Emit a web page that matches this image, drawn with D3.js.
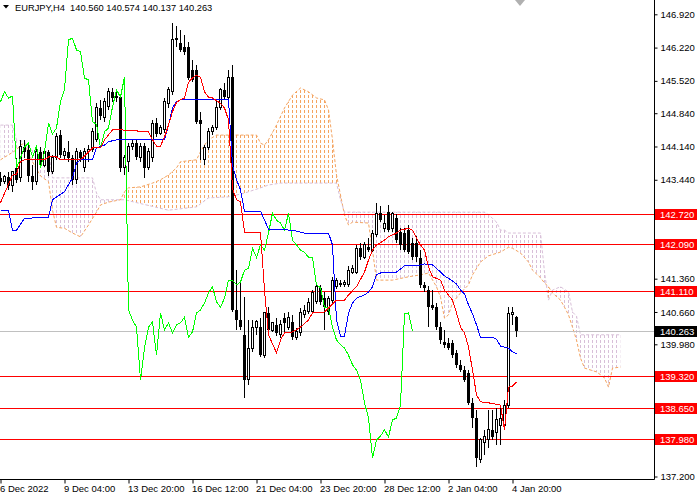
<!DOCTYPE html>
<html>
<head>
<meta charset="utf-8">
<script src="https://cdn.jsdelivr.net/npm/d3@7"></script>
<style>
  html, body { margin: 0; padding: 0; background: #fff; }
  svg { display: block; font-family: "Liberation Sans", Arial, sans-serif; }
</style>
</head>
<body>
<div id="chart"></div>
<script>
// EURJPY H4 with Ichimoku
var titleText = "EURJPY,H4  140.560 140.574 140.137 140.263";

var opens = [143.48,143.40,143.50,143.31,143.69,143.48,144.13,144.07,143.52,143.40,
  144.03,143.75,144.03,143.61,143.90,144.38,143.96,144.03,143.90,143.44,
  144.03,143.69,144.03,144.07,144.28,144.95,144.74,144.99,145.29,145.16,
  145.18,143.69,143.82,144.13,144.21,143.90,144.15,143.69,143.90,144.63,
  144.42,144.49,145.05,145.29,146.38,146.32,146.23,146.23,145.75,145.75,
  144.70,143.86,144.11,144.45,144.53,144.97,145.33,145.16,145.60,140.70,
  140.49,140.18,139.23,139.90,140.34,140.34,139.75,140.64,140.28,140.39,
  140.18,140.53,140.34,140.45,140.13,140.22,140.60,140.66,140.66,140.87,
  141.17,140.95,140.66,140.91,141.19,141.27,141.23,141.23,141.50,141.50,
  142.00,141.81,142.02,141.96,142.28,142.74,142.42,142.76,142.42,142.63,
  142.34,142.32,142.38,142.11,142.11,141.79,141.23,141.12,140.81,140.76,
  140.34,140.03,140.01,140.01,139.80,139.55,139.44,139.38,138.75,138.43,
  137.55,137.92,137.97,138.18,138.12,138.28,138.28,138.70,140.60,140.560];
var highs = [143.61,143.54,143.61,143.61,143.90,144.28,144.28,144.21,143.75,144.11,
  144.13,144.11,144.07,143.96,144.42,144.49,144.11,144.26,143.96,144.11,
  144.07,144.11,144.17,144.53,145.05,145.12,145.16,145.37,145.37,145.29,
  145.24,143.96,144.21,144.28,144.28,144.21,144.21,144.11,144.70,144.74,
  144.59,145.16,145.39,146.74,146.67,146.59,146.48,146.34,145.96,145.85,
  144.87,144.17,144.53,144.59,145.12,145.37,145.47,145.75,145.85,141.54,
  141.33,140.97,140.49,140.49,140.49,140.53,140.66,140.76,140.45,140.53,
  140.49,140.64,140.66,140.60,140.32,140.74,140.81,140.95,141.12,141.27,
  141.23,141.08,141.00,141.40,141.38,141.33,141.33,141.63,141.65,142.07,
  142.11,142.13,142.21,142.38,142.95,142.88,142.70,142.91,142.76,142.72,
  142.42,142.42,142.49,142.21,142.26,141.96,141.29,141.21,141.12,140.85,
  140.45,140.28,140.11,140.07,139.86,139.65,139.52,139.44,138.85,138.60,
  138.01,138.18,138.60,138.60,138.64,138.70,138.81,140.77,140.77,140.574];
var lows = [143.31,143.36,143.23,143.19,143.38,143.40,143.90,143.40,143.23,143.33,
  143.69,143.71,143.52,143.57,143.86,143.90,143.86,143.82,143.33,143.36,
  143.82,143.61,143.82,144.03,144.24,144.70,144.66,144.91,145.08,145.08,
  143.61,143.54,143.61,144.07,143.86,143.82,143.48,143.65,143.82,144.34,
  144.38,144.42,144.95,145.22,146.23,146.13,146.06,145.54,145.50,144.61,
  143.86,143.75,144.07,144.38,144.49,144.91,145.14,145.12,140.66,140.28,
  140.28,138.85,139.13,139.82,140.18,139.71,139.69,140.24,140.24,140.15,
  140.11,140.22,140.28,140.07,140.07,140.15,140.53,140.62,140.62,140.83,
  140.81,140.28,140.60,140.85,141.14,141.19,141.19,141.19,141.46,141.46,
  141.75,141.77,141.92,141.92,142.24,142.55,142.34,142.34,142.34,142.11,
  141.96,141.92,141.88,141.75,141.71,141.17,141.08,140.34,140.70,140.28,
  139.99,139.90,139.86,139.69,139.48,139.40,139.19,138.70,138.22,137.40,
  137.49,137.65,137.80,137.97,137.86,137.86,138.18,138.64,140.39,140.137];
var closes = [143.40,143.50,143.31,143.61,143.44,144.13,144.03,143.52,143.40,144.03,
  143.75,144.03,143.61,143.90,144.34,143.96,144.03,143.90,143.44,144.03,
  143.90,144.03,144.07,144.45,144.95,144.78,145.08,145.29,145.16,145.20,
  143.69,143.90,144.13,144.21,143.92,144.15,143.69,144.03,144.63,144.40,
  144.53,145.08,145.33,146.38,146.42,146.17,146.13,145.58,145.54,144.66,
  144.61,144.11,144.45,144.53,144.97,145.33,145.18,145.60,140.70,140.49,
  140.34,139.23,139.90,140.34,140.45,139.75,140.64,140.28,140.43,140.22,
  140.39,140.43,140.55,140.13,140.24,140.64,140.70,140.85,141.06,141.19,
  140.87,140.76,140.95,141.33,141.33,141.23,141.29,141.54,141.58,142.00,
  141.81,142.07,141.96,142.32,142.74,142.59,142.53,142.38,142.74,142.17,
  142.07,141.96,141.92,141.81,141.81,141.23,141.17,140.76,140.74,140.34,
  140.07,139.97,139.90,139.75,139.55,139.44,139.23,138.75,138.43,137.59,
  137.97,138.05,138.18,138.03,138.39,138.43,138.70,140.62,140.64,140.263];

// indicator lines as [bar, price]
var tenkan = [[0,142.96],[3,143.54],[4,143.56],[5,143.82],[6,143.86],[11,143.86],[12,143.92],[14,143.92],
  [15,143.86],[20,143.86],[23,144.11],[25,144.11],[26,144.28],[28,144.49],[30,144.49],[37,144.45],
  [38,144.28],[39,144.15],[40,144.15],[41,144.34],[42,144.59],[43,144.87],[44,145.07],[45,145.12],
  [46,145.16],[47,145.49],[48,145.58],[49,145.64],[50,145.60],[51,145.29],[52,145.18],[53,145.16],
  [55,145.05],[56,144.95],[57,144.70],[58,143.26],[59,143.02],[60,142.98],[61,142.34],[65,142.34],
  [66,141.12],[67,140.18],[68,139.99],[69,139.80],[70,140.07],[71,140.22],[73,140.24],[75,140.34],
  [77,140.49],[78,140.64],[81,140.66],[82,140.74],[84,140.91],[86,140.91],[87,141.02],[89,141.19],
  [91,141.50],[92,141.75],[93,141.96],[94,142.07],[96,142.17],[97,142.24],[99,142.32],[100,142.38],
  [102,142.42],[103,142.38],[104,142.21],[105,142.07],[106,141.96],[107,141.61],[108,141.40],[110,141.33],
  [111,141.12],[113,140.91],[114,140.64],[115,140.34],[116,140.22],[117,139.92],[118,139.44],[119,138.92],
  [120,138.77],[122,138.75],[125,138.70],[126,138.18],[127,139.08],[128,139.10],[129,139.19]];
var kijun = [[0,142.80],[2,142.80],[3,142.38],[4,142.38],[6,142.63],[12,142.65],[13,143.02],[16,143.19],
  [18,143.48],[19,143.79],[20,143.86],[23,143.86],[24,144.11],[26,144.17],[27,144.24],[29,144.28],
  [41,144.28],[42,144.59],[43,144.95],[44,145.08],[45,145.12],[57,145.12],[58,143.75],[59,143.44],
  [60,143.23],[61,142.78],[65,142.78],[66,142.59],[67,142.40],[73,142.38],[75,142.34],[76,142.32],
  [82,142.32],[83,142.07],[84,140.49],[85,140.15],[86,140.15],[87,140.64],[88,140.85],[89,140.95],
  [91,141.02],[92,141.08],[93,141.19],[94,141.44],[95,141.48],[99,141.50],[100,141.56],[101,141.63],
  [104,141.63],[106,141.67],[108,141.65],[110,141.50],[111,141.42],[113,141.31],[114,141.25],[115,141.12],
  [116,141.04],[117,140.81],[118,140.62],[119,140.39],[120,140.13],[123,140.13],[124,140.09],[125,139.94],
  [127,139.90],[128,139.82],[129,139.78]];
var spanA = [[0,143.86],[4,144.07],[5,144.17],[6,144.21],[8,143.82],[10,143.52],[12,143.40],[13,142.80],
  [14,142.44],[16,142.42],[18,142.32],[20,142.24],[22,142.49],[24,142.76],[25,142.91],[27,142.97],
  [30,143.02],[31,143.19],[32,143.27],[35,143.29],[38,143.37],[40,143.44],[42,143.54],[44,143.69],
  [45,143.82],[49,143.86],[50,144.03],[51,144.17],[52,144.28],[54,144.38],[64,144.38],[65,144.21],
  [66,144.17],[67,144.28],[69,144.59],[71,144.95],[73,145.22],[75,145.37],[77,145.29],[79,145.16],
  [81,145.12],[82,144.91],[83,144.28],[84,143.54],[85,143.12],[86,142.70],[87,142.49],[88,142.55],
  [92,142.53],[93,141.96],[94,141.33],[98,141.33],[102,141.40],[105,141.44],[107,141.48],[109,141.19],
  [110,140.97],[111,140.53],[112,140.60],[113,140.85],[115,141.06],[117,141.23],[118,141.44],[120,141.71],
  [122,141.84],[125,141.92],[127,142.02],[128,142.00],[130,141.90],[132,141.71],[133,141.54],[135,141.38],
  [136,141.27],[137,141.19],[138,141.06],[140,140.91],[141,140.76],[142,140.60],[143,140.34],[144,140.07],
  [145,139.69],[146,139.48],[149,139.40],[150,139.34],[151,139.27],[152,139.08],[153,139.48],[155,139.50]];
var spanB = [[0,144.59],[3,144.59],[4,144.28],[6,144.24],[7,144.07],[12,144.03],[13,143.48],[23,143.48],
  [24,143.16],[25,143.02],[31,143.02],[42,142.80],[49,142.87],[52,143.06],[57,143.08],[61,143.16],
  [65,143.27],[67,143.33],[70,143.37],[84,143.37],[85,143.02],[86,142.76],[121,142.76],[122,142.70],
  [123,142.63],[124,142.55],[125,142.38],[126,142.38],[127,142.32],[135,142.32],[136,141.50],[137,140.91],
  [138,141.12],[140,141.19],[142,141.08],[143,140.66],[144,140.57],[145,140.18],[155,140.18]];
var chikouShift = 26;

var levels = [142.720, 142.090, 141.110, 139.320, 138.650, 137.980];
var lastPrice = 140.263;
var priceTicks = [146.920, 146.220, 145.520, 144.840, 144.140, 143.440, 142.740, 142.040,
  141.360, 140.660, 139.980, 139.280, 138.580, 137.900, 137.200];
var timeTickBars = [0, 16, 32, 48, 64, 80, 96, 112, 128];
var timeTickLabels = ["6 Dec 2022", "9 Dec 04:00", "13 Dec 20:00", "16 Dec 12:00", "21 Dec 04:00",
  "23 Dec 20:00", "28 Dec 12:00", "2 Jan 04:00", "4 Jan 20:00"];

var width = 700, height = 500;
var plotRight = 654, plotBottom = 479;
var fontSize = "9.5px";

var svg = d3.select("#chart").append("svg")
    .attr("width", width)
    .attr("height", height)
    .style("background", "#fff");

// 4px per H4 bar, like MT4 at this zoom
var x = d3.scaleLinear().domain([0, 163]).range([0.5, 652.5]);
var y = d3.scaleLinear().domain([137.2, 146.92]).range([476.5, 14.3]);
var snap = function(v){ return Math.round(v) + 0.5; };

var defs = svg.append("defs");
defs.append("clipPath").attr("id", "plot")
    .append("rect").attr("x", 0).attr("y", 0).attr("width", plotRight).attr("height", plotBottom);
[["dotSandy", "#F4A460"], ["dotThistle", "#D8BFD8"]].forEach(function(p){
    defs.append("pattern")
        .attr("id", p[0])
        .attr("patternUnits", "userSpaceOnUse")
        .attr("width", 4).attr("height", 5)
        .append("rect")
        .attr("x", 0).attr("y", 0).attr("width", 1).attr("height", 3)
        .attr("fill", p[1]);
});

// cloud: sandy where A above B, thistle where B above A
var areaDown = d3.area().x(d => x(d[0])).y0(d => y(d[1])).y1(plotBottom);
var areaUp = d3.area().x(d => x(d[0])).y0(0).y1(d => y(d[1]));
defs.append("clipPath").attr("id", "aboveB").append("path").attr("d", areaUp(spanB));
defs.append("clipPath").attr("id", "aboveA").append("path").attr("d", areaUp(spanA));

var plot = svg.append("g").attr("clip-path", "url(#plot)");

plot.append("g").attr("clip-path", "url(#aboveB)")
    .append("path")
    .attr("d", areaDown(spanA))
    .attr("fill", "url(#dotSandy)");
plot.append("g").attr("clip-path", "url(#aboveA)")
    .append("path")
    .attr("d", areaDown(spanB))
    .attr("fill", "url(#dotThistle)");

var line = d3.line().x(d => x(d[0])).y(d => y(d[1]));
plot.append("path").attr("d", line(spanA))
    .attr("fill", "none").attr("stroke", "#F4A460").attr("stroke-dasharray", "3,2");
plot.append("path").attr("d", line(spanB))
    .attr("fill", "none").attr("stroke", "#D8BFD8").attr("stroke-dasharray", "3,2");

// horizontal levels + last price line
plot.append("g").selectAll("line")
    .data(levels)
    .enter()
    .append("line")
    .attr("x1", 0).attr("x2", plotRight)
    .attr("y1", d => snap(y(d))).attr("y2", d => snap(y(d)))
    .attr("stroke", "#FF0000");
plot.append("line")
    .attr("x1", 0).attr("x2", plotRight)
    .attr("y1", snap(y(lastPrice))).attr("y2", snap(y(lastPrice)))
    .attr("stroke", "#C0C0C0");

// candles
var bars = d3.range(closes.length).map(function(i){
    return {i: i, o: opens[i], h: highs[i], l: lows[i], c: closes[i]};
});
var candles = plot.append("g").attr("shape-rendering", "crispEdges");
candles.selectAll("line")
    .data(bars)
    .enter()
    .append("line")
    .attr("x1", d => x(d.i)).attr("x2", d => x(d.i))
    .attr("y1", d => y(d.h)).attr("y2", d => y(d.l))
    .attr("stroke", "#000");
candles.selectAll("rect")
    .data(bars)
    .enter()
    .append("rect")
    .attr("x", d => d.c >= d.o ? x(d.i) - 1 : x(d.i) - 1.5)
    .attr("width", d => d.c >= d.o ? 2 : 3)
    .attr("y", d => y(Math.max(d.o, d.c)))
    .attr("height", d => Math.max(1, Math.abs(y(d.o) - y(d.c))))
    .attr("fill", d => d.c >= d.o ? "#fff" : "#000")
    .attr("stroke", d => d.c >= d.o ? "#000" : "none");

// ichimoku lines
var chikou = bars.filter(d => d.i >= chikouShift).map(d => [d.i - chikouShift, d.c]);
var lines = plot.append("g").attr("fill", "none").attr("shape-rendering", "crispEdges");
lines.append("path").attr("d", line(chikou)).attr("stroke", "#00FF00");
lines.append("path").attr("d", line(kijun)).attr("stroke", "#0000FF");
lines.append("path").attr("d", line(tenkan)).attr("stroke", "#FF0000");

// frame
svg.append("path")
    .attr("d", "M0," + (plotBottom + 0.5) + "H" + (plotRight + 0.5) + "V0")
    .attr("fill", "none").attr("stroke", "#000");

// price axis; labels sitting under a level tag are hidden, as in the terminal
var tagged = levels.concat([lastPrice]);
var visibleTicks = priceTicks.filter(t => tagged.every(v => Math.abs(y(t) - y(v)) > 9));
var yAxis = d3.axisRight(y)
    .tickValues(visibleTicks)
    .tickFormat(d3.format(".3f"))
    .tickSize(3)
    .tickPadding(3);
var yg = svg.append("g")
    .attr("transform", "translate(" + (plotRight + 0.5) + ",0)")
    .call(yAxis);
yg.select(".domain").remove();
yg.selectAll("text").style("font-size", fontSize).style("font-family", "Liberation Sans, Arial, sans-serif").attr("fill", "#000");

// level labels on the axis
var tagH = 11;
svg.append("g").selectAll("g")
    .data(levels.map(v => ({v: v, bg: "#FF0000"})).concat([{v: lastPrice, bg: "#000"}]))
    .enter()
    .append("g")
    .each(function(d){
        var g = d3.select(this);
        var cy = Math.round(y(d.v));
        g.append("rect")
            .attr("x", 655).attr("y", cy - 5).attr("width", 42).attr("height", tagH)
            .attr("fill", d.bg);
        g.append("text")
            .attr("x", 660).attr("y", cy + 4)
            .text(d3.format(".3f")(d.v))
            .style("font-size", fontSize)
            .attr("fill", "#fff");
    });

// time axis
var xAxis = d3.axisBottom(x)
    .tickValues(timeTickBars)
    .tickFormat((d, i) => timeTickLabels[i])
    .tickSize(4)
    .tickPadding(2);
var xg = svg.append("g")
    .attr("transform", "translate(0," + (plotBottom + 0.5) + ")")
    .call(xAxis);
xg.select(".domain").remove();
xg.selectAll("text")
    .attr("text-anchor", "start")
    .attr("dx", "-1")
    .style("font-size", fontSize)
    .style("font-family", "Liberation Sans, Arial, sans-serif")
    .attr("fill", "#000");

// title
svg.append("path").attr("d", "M3,5L9,5L6,8.5Z").attr("fill", "#000");
svg.append("text")
    .attr("x", 15).attr("y", 11)
    .attr("xml:space", "preserve")
    .style("white-space", "pre")
    .style("font-size", "9.3px")
    .text(titleText);

// chart shift marker
svg.append("path").attr("d", "M515,0L525,0L520,6Z").attr("fill", "#B0B0B0");
</script>
</body>
</html>
